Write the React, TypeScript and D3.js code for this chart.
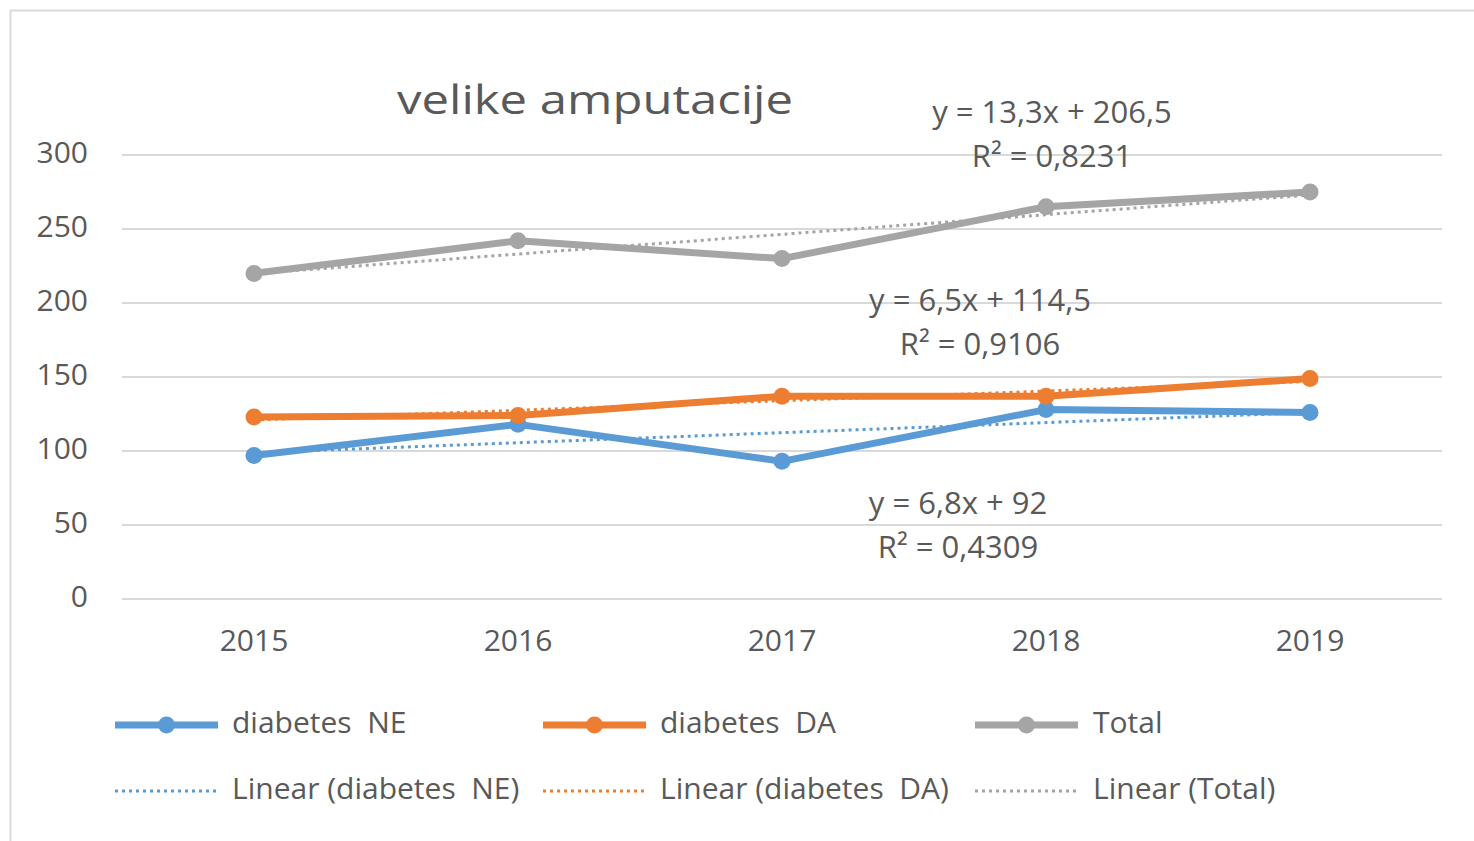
import React from "react";
import * as d3 from "d3";

const years = ["2015", "2016", "2017", "2018", "2019"];
const diabetesNE = [97, 118, 93, 128, 126];
const diabetesDA = [123, 124, 137, 137, 149];
const total = [220, 242, 230, 265, 275];
const yTicks = [0, 50, 100, 150, 200, 250, 300];
const seriesNames = ["diabetes  NE", "diabetes  DA", "Total"];
const trendNames = ["Linear (diabetes  NE)", "Linear (diabetes  DA)", "Linear (Total)"];
const trendEq = [
  ["y = 6,8x + 92", "R² = 0,4309"],
  ["y = 6,5x + 114,5", "R² = 0,9106"],
  ["y = 13,3x + 206,5", "R² = 0,8231"],
];
const title = "velike amputacije";

const colors = ["#5B9BD5", "#ED7D31", "#A5A5A5"];
const textColor = "#595959";
const font = "'Open Sans', 'Noto Sans', sans-serif";

function linreg(vals: number[]) {
  const xs = vals.map((_, i) => i + 1);
  const mx = d3.mean(xs)!;
  const my = d3.mean(vals)!;
  let num = 0, den = 0;
  xs.forEach((x, i) => { num += (x - mx) * (vals[i] - my); den += (x - mx) ** 2; });
  const b = num / den;
  const a = my - b * mx;
  return xs.map((x) => a + b * x);
}

const pre: React.CSSProperties = { whiteSpace: "pre" };

export default function App() {
  const W = 1474, H = 841;
  const left = 122, right = 1442, top = 155, bottom = 599;
  const x = d3.scaleBand<string>().domain(years).range([left, right]);
  const cx = (y: string) => x(y)! + x.bandwidth() / 2;
  const y = d3.scaleLinear().domain([0, 300]).range([bottom, top]);
  const line = d3.line<number>().x((_, i) => cx(years[i])).y((d) => y(d));
  const allSeries = [diabetesNE, diabetesDA, total];
  const eqPos = [
    [958, 506],
    [980, 303],
    [1052, 115],
  ];
  const legendRow1 = [
    { lx: 115, tx: 232 },
    { lx: 543, tx: 660 },
    { lx: 975, tx: 1093 },
  ];
  return (
    <svg width={W} height={H} style={{ position: "absolute", left: 0, top: 0, background: "#fff" }}>
      <rect x={0} y={0} width={W} height={H} fill="#fff" />
      <rect x={10.5} y={10.5} width={W} height={H} fill="none" stroke="#D9D9D9" strokeWidth={2} />
      <text x={397} y={103} dominantBaseline="middle" fontFamily={font} fontSize={40} fill={textColor}
        textLength={396} lengthAdjust="spacingAndGlyphs">
        {title}
      </text>
      {yTicks.map((t) => (
        <g key={t}>
          <line x1={left} x2={right} y1={y(t)} y2={y(t)} stroke="#D9D9D9" strokeWidth={2} />
          <text x={88} y={y(t)} textAnchor="end" dominantBaseline="middle" fontFamily={font} fontSize={30} fill={textColor}>
            {t}
          </text>
        </g>
      ))}
      {years.map((yr) => (
        <text key={yr} x={cx(yr)} y={643} textAnchor="middle" dominantBaseline="middle" fontFamily={font} fontSize={30} fill={textColor}>
          {yr}
        </text>
      ))}
      {allSeries.map((s, k) => (
        <path key={"t" + k} d={line(linreg(s))!} fill="none" stroke={colors[k]} strokeWidth={3} strokeDasharray="3,4" />
      ))}
      {allSeries.map((s, k) => (
        <g key={"s" + k}>
          <path d={line(s)!} fill="none" stroke={colors[k]} strokeWidth={7} strokeLinejoin="round" />
          {s.map((v, i) => (
            <circle key={i} cx={cx(years[i])} cy={y(v)} r={8.5} fill={colors[k]} />
          ))}
        </g>
      ))}
      {trendEq.map((eq, k) => (
        <g key={"e" + k}>
          <text x={eqPos[k][0]} y={eqPos[k][1]} textAnchor="middle" dominantBaseline="middle" fontFamily={font} fontSize={31} fill={textColor}>
            {eq[0]}
          </text>
          <text x={eqPos[k][0]} y={eqPos[k][1] + 44} textAnchor="middle" dominantBaseline="middle" fontFamily={font} fontSize={31} fill={textColor}>
            {eq[1]}
          </text>
        </g>
      ))}
      {legendRow1.map((p, k) => (
        <g key={"l" + k}>
          <line x1={p.lx} x2={p.lx + 103} y1={725} y2={725} stroke={colors[k]} strokeWidth={7} />
          <circle cx={p.lx + 51.5} cy={725} r={8.5} fill={colors[k]} />
          <text x={p.tx} y={725} dominantBaseline="middle" fontFamily={font} fontSize={30} fill={textColor} style={pre}>
            {seriesNames[k]}
          </text>
          <line x1={p.lx} x2={p.lx + 101} y1={791} y2={791} stroke={colors[k]} strokeWidth={3} strokeDasharray="3,4" />
          <text x={p.tx} y={791} dominantBaseline="middle" fontFamily={font} fontSize={30} fill={textColor} style={pre}>
            {trendNames[k]}
          </text>
        </g>
      ))}
    </svg>
  );
}
